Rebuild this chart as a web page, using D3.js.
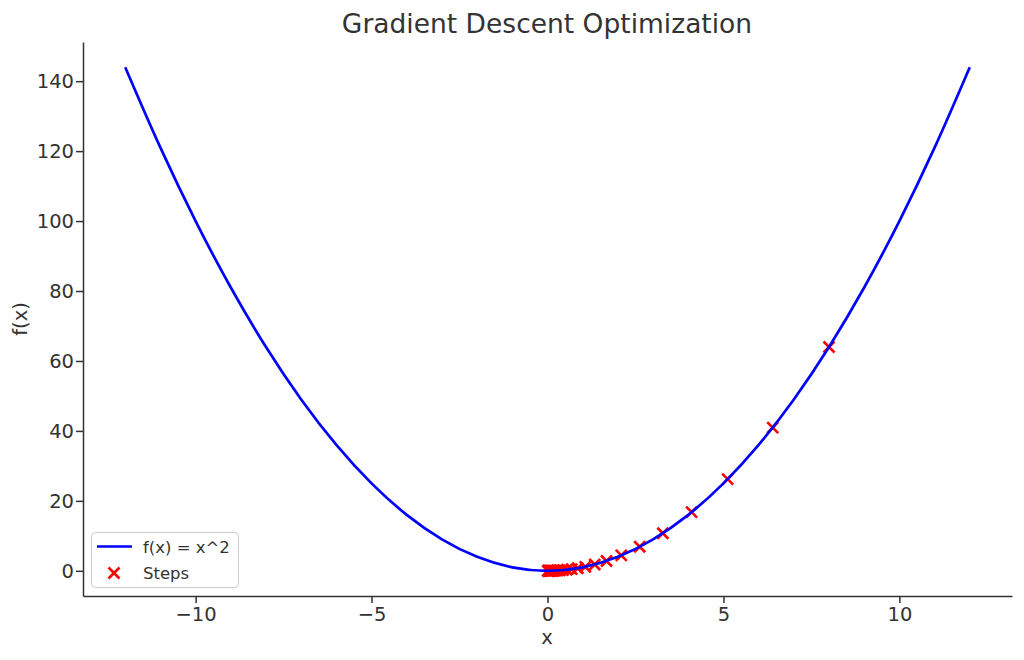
<!DOCTYPE html>
<html><head><meta charset="utf-8">
<script src="https://cdn.jsdelivr.net/npm/d3@7"></script>
<style>
body{margin:0;background:#fff;}
svg{display:block;font-family:"DejaVu Sans",sans-serif;}
</style></head>
<body>
<svg id="c" width="1024" height="660"></svg>
<script>
// Curve samples f(x) = x^2
const curveX = [-12,-11,-10,-9,-8,-7,-6,-5,-4,-3,-2,-1,0,1,2,3,4,5,6,7,8,9,10,11,12];
const curveY = [144,121,100,81,64,49,36,25,16,9,4,1,0,1,4,9,16,25,36,49,64,81,100,121,144];
// Gradient descent steps
const stepX = [8.0,6.4,5.12,4.096,3.277,2.621,2.097,1.678,1.342,1.074,0.859,0.687,0.550,0.440,0.352,0.281,0.225,0.180,0.144,0.115,0.092,0.074,0.059,0.047,0.038,0.030,0.024,0.019,0.015,0.012];
const stepY = [64,40.96,26.21,16.78,10.74,6.87,4.40,2.81,1.80,1.15,0.74,0.47,0.30,0.19,0.12,0.079,0.051,0.032,0.021,0.013,0.0085,0.0054,0.0035,0.0022,0.0014,0.0009,0.0006,0.0004,0.0002,0.0002];
const xTicks = [-10,-5,0,5,10];
const yTicks = [0,20,40,60,80,100,120,140];
const title = "Gradient Descent Optimization";
const xLabel = "x", yLabel = "f(x)";
const legendLabels = ["f(x) = x^2","Steps"];

const svg = d3.select("#c");
const L=83, R=1012, T=42, B=596;
const x = d3.scaleLinear().domain([-13.2,13.2]).range([L,R]);
const y = d3.scaleLinear().domain([-7.2,151.2]).range([B,T]);
const textCol="#333", fs=19.5;
const fmt = d => (d<0?"\u2212"+Math.abs(d):""+d);

// axes
const gx = svg.append("g").attr("transform",`translate(0,${B})`)
  .call(d3.axisBottom(x).tickValues(xTicks).tickFormat(fmt).tickSize(7).tickPadding(4).tickSizeOuter(0));
const gy = svg.append("g").attr("transform",`translate(${L},0)`)
  .call(d3.axisLeft(y).tickValues(yTicks).tickFormat(fmt).tickSize(7).tickPadding(2).tickSizeOuter(0));
[gx,gy].forEach(g=>{
  g.select(".domain").attr("stroke",textCol).attr("stroke-width",1.5);
  g.selectAll(".tick line").attr("stroke",textCol).attr("stroke-width",1.5);
  g.selectAll(".tick text").attr("fill",textCol).style("font-size",fs+"px").style("font-family","DejaVu Sans");
});

// scatter steps (under line)
const ms=5.5;
const steps = svg.append("g");
stepX.forEach((sx,i)=>{
  const cx=x(sx), cy=y(stepY[i]);
  steps.append("path").attr("d",`M${cx-ms},${cy-ms}L${cx+ms},${cy+ms}M${cx-ms},${cy+ms}L${cx+ms},${cy-ms}`)
    .attr("stroke","red").attr("stroke-width",2.6).attr("fill","none");
});

// curve
const line = d3.line().x((d,i)=>x(curveX[i])).y((d,i)=>y(curveY[i])).curve(d3.curveMonotoneX);
svg.append("path").attr("d",line(curveX)).attr("fill","none").attr("stroke","blue").attr("stroke-width",2.7);

// title and labels
svg.append("text").attr("x",547).attr("y",33).attr("text-anchor","middle").attr("fill",textCol)
  .style("font-size","26.5px").text(title);
svg.append("text").attr("x",547).attr("y",644).attr("text-anchor","middle").attr("fill",textCol)
  .style("font-size",fs+"px").text(xLabel);
svg.append("text").attr("transform","translate(27,319) rotate(-90)").attr("text-anchor","middle").attr("fill",textCol)
  .style("font-size",fs+"px").text(yLabel);

// legend
const lg = svg.append("g");
lg.append("rect").attr("x",91.5).attr("y",532.5).attr("width",147).attr("height",55).attr("rx",4)
  .attr("fill","white").attr("fill-opacity",0.8).attr("stroke","#cccccc").attr("stroke-width",1);
lg.append("line").attr("x1",97).attr("x2",132).attr("y1",546.5).attr("y2",546.5).attr("stroke","blue").attr("stroke-width",2.7);
const lx=114, ly=573;
lg.append("path").attr("d",`M${lx-ms},${ly-ms}L${lx+ms},${ly+ms}M${lx-ms},${ly+ms}L${lx+ms},${ly-ms}`)
  .attr("stroke","red").attr("stroke-width",2.6);
lg.append("text").attr("x",143).attr("y",553).attr("fill",textCol).style("font-size","16.5px").text(legendLabels[0]);
lg.append("text").attr("x",143).attr("y",579).attr("fill",textCol).style("font-size","16.5px").text(legendLabels[1]);
</script>
</body></html>
